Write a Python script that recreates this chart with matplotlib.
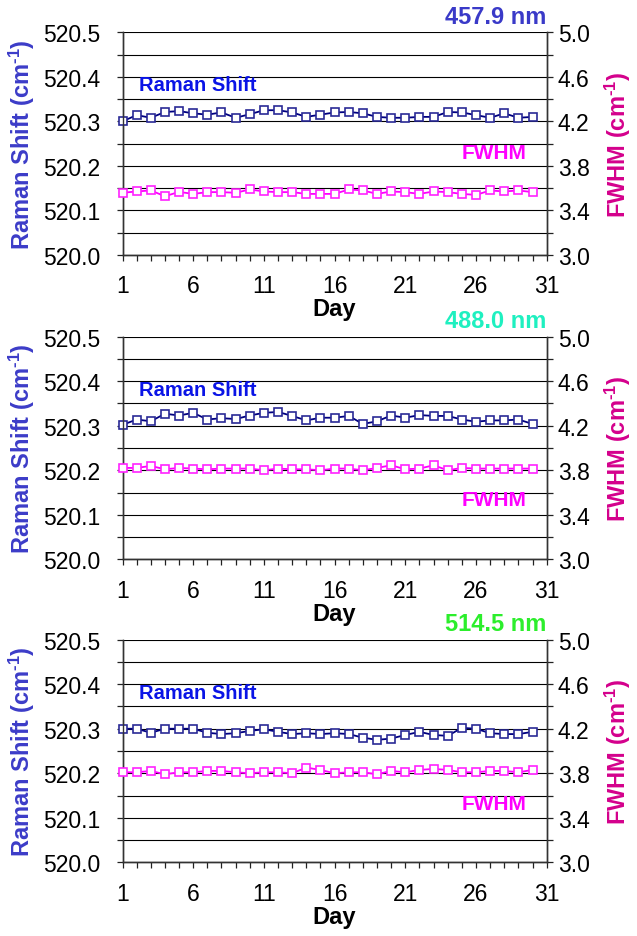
import matplotlib
matplotlib.use("Agg")
import matplotlib.pyplot as plt
from matplotlib.ticker import MultipleLocator, FixedLocator
import numpy as np

plt.rcParams['font.family'] = ['Liberation Sans', 'DejaVu Sans']
plt.rcParams['mathtext.fontset'] = 'custom'
plt.rcParams['mathtext.rm'] = 'Liberation Sans:bold'
plt.rcParams['mathtext.bf'] = 'Liberation Sans:bold'
plt.rcParams['mathtext.it'] = 'Liberation Sans:bold'

days = list(range(1, 31))

wavelengths = ["457.9 nm", "488.0 nm", "514.5 nm"]
title_colors = ["#3a3ac8", "#1ef0c0", "#2cee2c"]

raman_4579 = [520.300, 520.314, 520.308, 520.321, 520.323, 520.318, 520.315, 520.320,
              520.308, 520.316, 520.325, 520.325, 520.320, 520.310, 520.315, 520.320,
              520.321, 520.318, 520.310, 520.308, 520.308, 520.310, 520.310, 520.321,
              520.320, 520.314, 520.308, 520.318, 520.308, 520.310]
fwhm_4579 = [3.558, 3.570, 3.579, 3.527, 3.566, 3.548, 3.564, 3.564, 3.558, 3.588,
             3.570, 3.564, 3.564, 3.548, 3.548, 3.548, 3.588, 3.579, 3.548, 3.570,
             3.564, 3.548, 3.570, 3.564, 3.548, 3.539, 3.579, 3.570, 3.579, 3.564]

raman_4880 = [520.302, 520.314, 520.310, 520.327, 520.323, 520.329, 520.314, 520.317,
              520.315, 520.323, 520.329, 520.331, 520.322, 520.312, 520.318, 520.318,
              520.322, 520.304, 520.310, 520.323, 520.318, 520.324, 520.322, 520.322,
              520.314, 520.309, 520.312, 520.312, 520.314, 520.304]
fwhm_4880 = [3.821, 3.821, 3.839, 3.809, 3.821, 3.815, 3.809, 3.815, 3.815, 3.815,
             3.800, 3.815, 3.809, 3.809, 3.800, 3.815, 3.815, 3.800, 3.821, 3.845,
             3.809, 3.815, 3.845, 3.800, 3.821, 3.815, 3.815, 3.815, 3.815, 3.815]

raman_5145 = [520.300, 520.300, 520.291, 520.300, 520.300, 520.300, 520.291, 520.288,
              520.290, 520.295, 520.299, 520.293, 520.288, 520.290, 520.288, 520.290,
              520.288, 520.280, 520.275, 520.278, 520.286, 520.293, 520.286, 520.284,
              520.302, 520.300, 520.290, 520.288, 520.288, 520.293]
fwhm_5145 = [3.809, 3.809, 3.821, 3.791, 3.809, 3.809, 3.821, 3.821, 3.809, 3.800,
             3.809, 3.809, 3.800, 3.851, 3.830, 3.800, 3.809, 3.809, 3.791, 3.821,
             3.809, 3.830, 3.839, 3.830, 3.809, 3.809, 3.821, 3.821, 3.809, 3.830]

raman_sets = [raman_4579, raman_4880, raman_5145]
fwhm_sets = [fwhm_4579, fwhm_4880, fwhm_5145]
fwhm_label_y = [520.231, 520.135, 520.131]

left_ticks = [520.0, 520.1, 520.2, 520.3, 520.4, 520.5]
right_ticks = [3.0, 3.4, 3.8, 4.2, 4.6, 5.0]
day_ticks = [1, 6, 11, 16, 21, 26, 31]

fig = plt.figure(figsize=(6.37, 9.37), dpi=100)

left = 122.5 / 637
width = (546.7 - 122.5) / 637
tops = [33.3, 337.7, 640.7]
h_px = 222.6

for i in range(3):
    bottom = 1 - (tops[i] + h_px) / 937
    ax = fig.add_axes([left, bottom, width, h_px / 937])
    ax2 = ax.twinx()
    ax.set_zorder(ax2.get_zorder() - 1)
    ax.patch.set_visible(True)
    ax2.patch.set_visible(False)

    ax.set_xlim(1, 31)
    ax.set_ylim(520.0, 520.5)
    ax2.set_ylim(3.0, 5.0)

    ax.xaxis.set_major_locator(FixedLocator(day_ticks))
    ax.xaxis.set_minor_locator(MultipleLocator(1))
    ax.yaxis.set_major_locator(FixedLocator(left_ticks))
    ax.yaxis.set_minor_locator(MultipleLocator(0.05))
    ax.set_yticklabels([f"{v:.1f}" for v in left_ticks])
    ax2.yaxis.set_major_locator(FixedLocator(right_ticks))
    ax2.yaxis.set_minor_locator(MultipleLocator(0.2))
    ax2.set_yticklabels([f"{v:.1f}" for v in right_ticks])

    ax.grid(True, which='both', axis='y', color='black', linewidth=0.8)
    ax.set_axisbelow(True)

    for a in (ax, ax2):
        a.tick_params(axis='both', which='both', direction='out', length=4,
                      width=0.9, color='#222222', labelsize=16.5, labelcolor='black')
        for s in a.spines.values():
            s.set_color('#333333')
            s.set_linewidth(1.0)
        a.spines['top'].set_visible(False)
    ax.tick_params(axis='x', which='major', pad=10)
    ax.tick_params(axis='y', which='major', pad=12)
    ax2.tick_params(axis='y', which='major', pad=4)

    ax.plot(days, raman_sets[i], color='#000080', linewidth=1.3, marker='s',
            markersize=6.2, markerfacecolor='white', markeredgecolor='#2a2a96',
            markeredgewidth=1.2, zorder=3, clip_on=False)
    ax2.plot(days, fwhm_sets[i], color='#ff00ff', linewidth=1.3, marker='s',
             markersize=6.2, markerfacecolor='white', markeredgecolor='#ff22ff',
             markeredgewidth=1.2, zorder=3, clip_on=False)

    ax.text(2.2, 520.382, "Raman Shift", color='#0a14e6', fontsize=14.5,
            fontweight='bold', ha='left', va='center')
    ax.text(27.3, fwhm_label_y[i], "FWHM", color='#ff00ff', fontsize=15,
            fontweight='bold', ha='center', va='center')

    ax.set_xlabel("Day", fontsize=17, fontweight='bold')
    ax.xaxis.label.set_va('center')
    ax.xaxis.set_label_coords(0.5, -0.243)

    ax.set_ylabel("Raman Shift (cm$^{\\text{-}1}$)", fontsize=17, fontweight='bold',
                  color='#3c3cc8')
    ax.yaxis.label.set_va('center')
    ax.yaxis.set_label_coords(-0.237, 0.5)

    ax2.set_ylabel("FWHM (cm$^{\\text{-}1}$)", fontsize=17, fontweight='bold',
                   color='#d4008c')
    ax2.yaxis.label.set_va('center')
    ax2.yaxis.set_label_coords(1.168, 0.5)

    ax.text(1.0, 1.073, wavelengths[i], transform=ax.transAxes, ha='right',
            va='center', fontsize=17, fontweight='bold', color=title_colors[i])

fig.savefig("out.png", dpi=100)
